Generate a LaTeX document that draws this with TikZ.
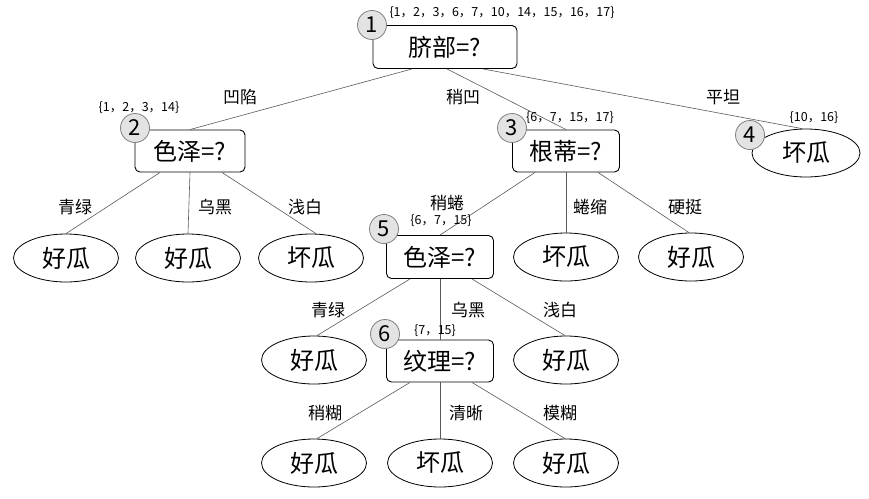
\documentclass[tikz,border=0pt]{standalone}
\usepackage{fontspec}
\setmainfont{Noto Sans CJK SC}
\usetikzlibrary{shapes.geometric,calc}

\begin{document}
\begin{tikzpicture}[x=1pt, y=-1pt,
    test/.style={draw, rounded corners=5pt, line width=0.9pt, minimum width=107pt, minimum height=42pt, inner sep=2pt, font=\fontsize{24}{24}\selectfont},
    leaf/.style={ellipse, draw, line width=0.8pt, minimum width=105pt, minimum height=48pt, inner sep=0pt, font=\fontsize{24}{24}\selectfont},
    num/.style={circle, draw=gray, fill=gray!22, line width=0.8pt, minimum size=29pt, inner sep=0pt, font=\fontsize{22}{22}\selectfont},
    set/.style={inner sep=0pt, font=\fontsize{12.5}{12.5}\selectfont},
    val/.style={inner sep=1pt, font=\fontsize{17}{17}\selectfont},
    edge/.style={draw=gray!70!black, line width=0.6pt}]
    \useasboundingbox (0,0) rectangle (869,498);

    % tests and leaves
    \node[test, minimum width=144pt, minimum height=43pt] (root) at (445,47) {脐部=?};
    \node[test, minimum width=110pt] (c2) at (190,151) {色泽=?};
    \node[test] (c3) at (566,151) {根蒂=?};
    \node[leaf, minimum width=108pt] (l4) at (806,153) {坏瓜};

    \node[leaf] (l21) at (66,258) {好瓜};
    \node[leaf] (l22) at (188,258) {好瓜};
    \node[leaf] (l23) at (311,258) {坏瓜};
    \node[test, minimum height=43pt] (c5) at (440,257) {色泽=?};
    \node[leaf] (l31) at (566,257) {坏瓜};
    \node[leaf] (l32) at (691,257) {好瓜};

    \node[leaf] (l51) at (314,360) {好瓜};
    \node[test] (c6) at (440,361) {纹理=?};
    \node[leaf] (l53) at (566,360) {好瓜};

    \node[leaf] (l61) at (314,463) {好瓜};
    \node[leaf] (l62) at (440,463) {坏瓜};
    \node[leaf] (l63) at (566,463) {好瓜};

    % branches
    \draw[edge] ($(root.south)+(-33,0)$) -- (c2.north);
    \draw[edge] ($(root.south)+(2,0)$) -- (c3.north);
    \draw[edge] ($(root.south)+(38,0)$) -- ($(l4.north)+(-4,0)$);

    \draw[edge] ($(c2.south)+(-30,0)$) -- (l21.north);
    \draw[edge] (c2.south) -- (l22.north);
    \draw[edge] ($(c2.south)+(32,0)$) -- ($(l23.north)+(5,0)$);

    \draw[edge] ($(c3.south)+(-31,0)$) -- (c5.north);
    \draw[edge] (c3.south) -- (l31.north);
    \draw[edge] ($(c3.south)+(32,0)$) -- ($(l32.north)+(-2,0)$);

    \draw[edge] ($(c5.south)+(-30,0)$) -- ($(l51.north)+(3,0)$);
    \draw[edge] (c5.south) -- (c6.north);
    \draw[edge] ($(c5.south)+(32,0)$) -- ($(l53.north)+(-1,0)$);

    \draw[edge] ($(c6.south)+(-30,0)$) -- ($(l61.north)+(3,0)$);
    \draw[edge] (c6.south) -- (l62.north);
    \draw[edge] ($(c6.south)+(32,0)$) -- ($(l63.north)+(-1,0)$);

    % node numbers
    \node[num] (n1) at (372,25) {1};
    \node[num] (n2) at (135,128) {2};
    \node[num] (n3) at (512,128) {3};
    \node[num] (n4) at (750,135) {4};
    \node[num] (n5) at (384,229) {5};
    \node[num] (n6) at (385,334) {6};

    % sample sets
    \node[set] (s1) at (502,13) {\{1，2，3，6，7，10，14，15，16，17\}};
    \node[set] (s2) at (139,108) {\{1，2，3，14\}};
    \node[set] (s3) at (570,118) {\{6，7，15，17\}};
    \node[set] (s4) at (814,118) {\{10，16\}};
    \node[set] (s5) at (441,221) {\{6，7，15\}};
    \node[set] (s6) at (435,331) {\{7，15\}};

    % attribute values
    \node[val] (v1) at (240,97) {凹陷};
    \node[val] (v2) at (463,97) {稍凹};
    \node[val] (v3) at (723,97) {平坦};
    \node[val] (v21) at (75,207) {青绿};
    \node[val] (v22) at (215,207) {乌黑};
    \node[val] (v23) at (305,207) {浅白};
    \node[val] (v31) at (447,203) {稍蜷};
    \node[val] (v32) at (590,207) {蜷缩};
    \node[val] (v33) at (685,207) {硬挺};
    \node[val] (v51) at (328,310) {青绿};
    \node[val] (v52) at (468,310) {乌黑};
    \node[val] (v53) at (560,310) {浅白};
    \node[val] (v61) at (325,413) {稍糊};
    \node[val] (v62) at (466,413) {清晰};
    \node[val] (v63) at (560,413) {模糊};
\end{tikzpicture}
\end{document}
